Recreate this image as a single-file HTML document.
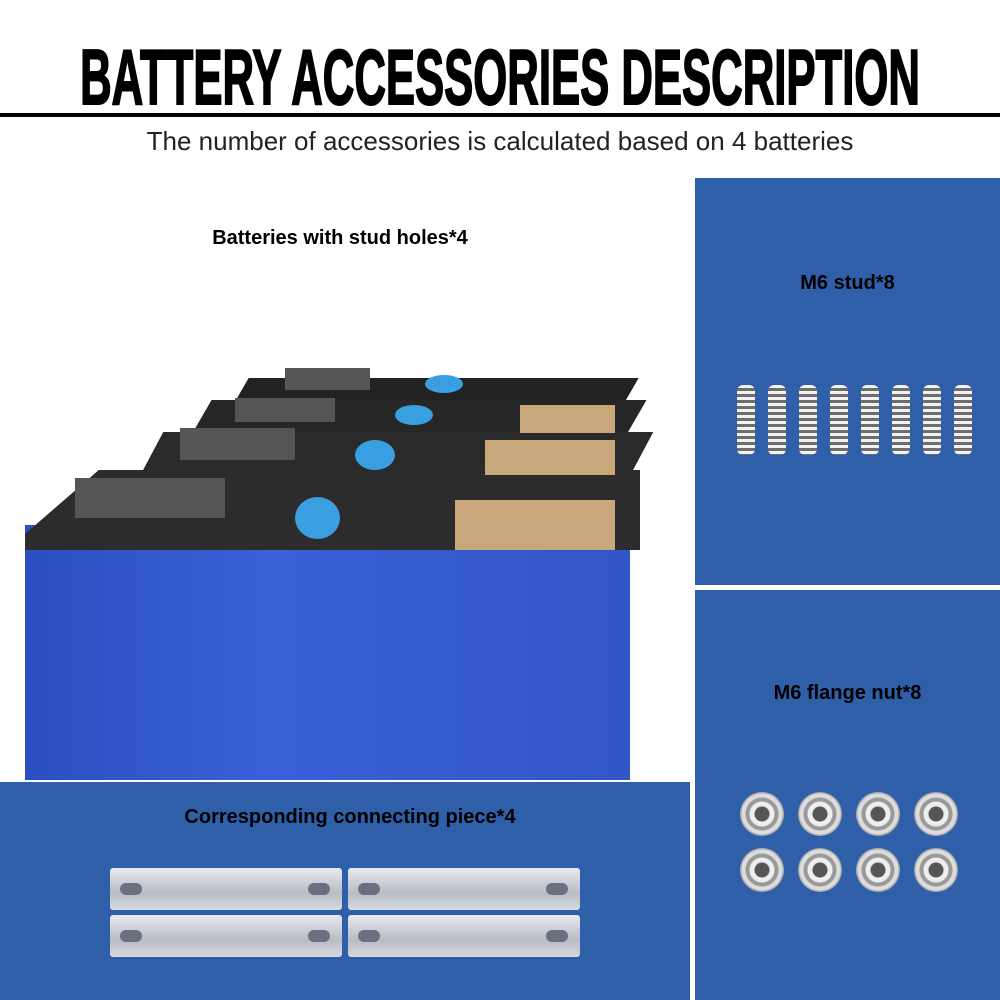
<!DOCTYPE html>
<html><head><meta charset="utf-8"><style>
body{margin:0;width:1000px;height:1000px;background:#fff;position:relative;overflow:hidden;font-family:"Liberation Sans",sans-serif}
.a{position:absolute}
.panel{position:absolute;background:#2f5fa9}
.lbl{position:absolute;font-weight:bold;font-size:20px;color:#000;text-align:center}
.bar{position:absolute;width:232px;height:42px;background:linear-gradient(#e8eaee,#b7bcc4 60%,#d8dbe0);border-radius:3px}
.hole{position:absolute;width:22px;height:12px;border-radius:6px;background:#6a7080;top:15px}
.stud{position:absolute;width:18px;height:70px;border-radius:6px;background:repeating-linear-gradient(#f2f2f2 0 3px,#6d6d6d 3px 6px);top:385px}
.nut{position:absolute;width:44px;height:44px;border-radius:50%;background:radial-gradient(circle,#555 0 7px,#eee 8px 12px,#999 13px 16px,#ddd 17px 20px,#aaa 21px)}
</style></head><body>
<div class="a" style="left:500px;top:32px;white-space:nowrap;font-weight:bold;font-size:78px;line-height:90px;color:#000;transform:translateX(-50%) scaleX(0.56);-webkit-text-stroke:2px #000">BATTERY ACCESSORIES DESCRIPTION</div>
<div class="a" style="left:0;top:113px;width:1000px;height:4px;background:#000"></div>
<div class="a" style="left:0;top:126px;width:1000px;text-align:center;font-size:26px;color:#222;white-space:nowrap">The number of accessories is calculated based on 4 batteries</div>

<div class="lbl" style="left:140px;top:227px;width:400px">Batteries with stud holes*4</div>
<div class="a" style="left:25px;top:525px;width:605px;height:255px;background:linear-gradient(90deg,#2a4fc0,#3a60d8 40%,#3156c8)"></div>
<div class="a" style="left:240px;top:378px;width:390px;height:30px;background:#222;transform:skewX(-30deg)"></div>
<div class="a" style="left:200px;top:400px;width:435px;height:40px;background:#262626;transform:skewX(-30deg)"></div>
<div class="a" style="left:150px;top:432px;width:490px;height:50px;background:#2a2a2a;transform:skewX(-28deg)"></div>
<div class="a" style="left:25px;top:470px;width:615px;height:80px;background:#2c2c2c;clip-path:polygon(12% 0,100% 0,100% 100%,0 100%,0 80%)"></div>
<div class="a" style="left:295px;top:497px;width:45px;height:42px;border-radius:50%;background:#3a9fe0"></div>
<div class="a" style="left:355px;top:440px;width:40px;height:30px;border-radius:50%;background:#3a9fe0"></div>
<div class="a" style="left:395px;top:405px;width:38px;height:20px;border-radius:50%;background:#3a9fe0"></div>
<div class="a" style="left:425px;top:375px;width:38px;height:18px;border-radius:50%;background:#3a9fe0"></div>
<div class="a" style="left:455px;top:500px;width:160px;height:50px;background:#c8a87a"></div>
<div class="a" style="left:485px;top:440px;width:130px;height:35px;background:#c8a87a"></div>
<div class="a" style="left:520px;top:405px;width:95px;height:28px;background:#c8a87a"></div>
<div class="a" style="left:75px;top:478px;width:150px;height:40px;background:#555"></div>
<div class="a" style="left:180px;top:428px;width:115px;height:32px;background:#555"></div>
<div class="a" style="left:235px;top:398px;width:100px;height:24px;background:#555"></div>
<div class="a" style="left:285px;top:368px;width:85px;height:22px;background:#555"></div>

<div class="panel" style="left:695px;top:178px;width:305px;height:407px"></div>
<div class="lbl" style="left:695px;top:272px;width:305px">M6 stud*8</div>
<div class="stud" style="left:737px"></div><div class="stud" style="left:768px"></div><div class="stud" style="left:799px"></div><div class="stud" style="left:830px"></div><div class="stud" style="left:861px"></div><div class="stud" style="left:892px"></div><div class="stud" style="left:923px"></div><div class="stud" style="left:954px"></div>

<div class="panel" style="left:695px;top:590px;width:305px;height:410px"></div>
<div class="lbl" style="left:695px;top:682px;width:305px">M6 flange nut*8</div>
<div class="nut" style="left:740px;top:792px"></div><div class="nut" style="left:798px;top:792px"></div><div class="nut" style="left:856px;top:792px"></div><div class="nut" style="left:914px;top:792px"></div>
<div class="nut" style="left:740px;top:848px"></div><div class="nut" style="left:798px;top:848px"></div><div class="nut" style="left:856px;top:848px"></div><div class="nut" style="left:914px;top:848px"></div>

<div class="panel" style="left:0;top:782px;width:690px;height:218px"></div>
<div class="lbl" style="left:100px;top:806px;width:500px">Corresponding connecting piece*4</div>
<div class="bar" style="left:110px;top:868px"><div class="hole" style="left:10px"></div><div class="hole" style="left:198px"></div></div>
<div class="bar" style="left:348px;top:868px"><div class="hole" style="left:10px"></div><div class="hole" style="left:198px"></div></div>
<div class="bar" style="left:110px;top:915px"><div class="hole" style="left:10px"></div><div class="hole" style="left:198px"></div></div>
<div class="bar" style="left:348px;top:915px"><div class="hole" style="left:10px"></div><div class="hole" style="left:198px"></div></div>
</body></html>
